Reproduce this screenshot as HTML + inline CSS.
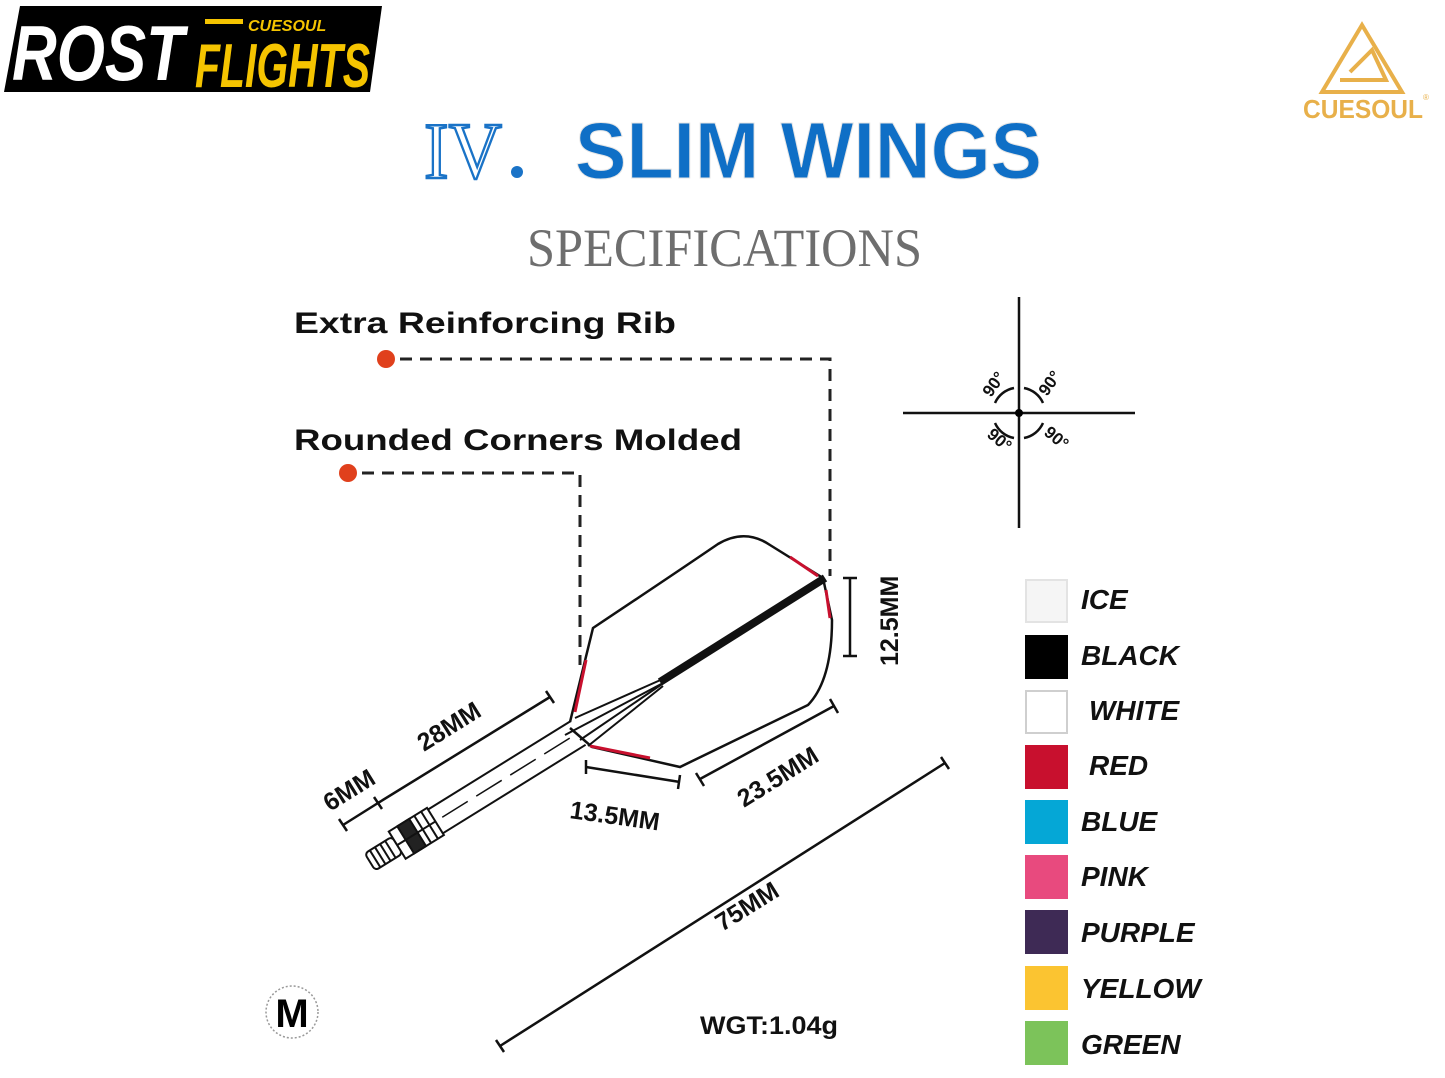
<!DOCTYPE html>
<html><head><meta charset="utf-8"><style>
html,body{margin:0;padding:0;background:#fff;}
svg{display:block;}
.s{font-family:"Liberation Sans",sans-serif;}
.serif{font-family:"Liberation Serif",serif;}
</style></head><body>
<svg width="1445" height="1078" viewBox="0 0 1445 1078" xmlns="http://www.w3.org/2000/svg" class="s">
<rect width="1445" height="1078" fill="#fff"/>
<polygon points="20,6 382,6 370,92 4,92" fill="#000"/>
<text x="12" y="80" font-size="78" font-weight="bold" font-style="italic" fill="#fff" textLength="172" lengthAdjust="spacingAndGlyphs">ROST</text>
<text x="195" y="87" font-size="62" font-weight="bold" font-style="italic" fill="#f5c400" textLength="175" lengthAdjust="spacingAndGlyphs">FLIGHTS</text>
<text x="248" y="31" font-size="16" font-weight="bold" font-style="italic" fill="#f5c400">CUESOUL</text>
<rect x="205" y="19" width="38" height="5" fill="#f5c400"/>
<g fill="none" stroke="#e8b04a" stroke-width="4">
<polygon points="1362,25 1402,92 1322,92"/>
<polyline points="1350,72 1372,50 1386,80 1340,80"/>
</g>
<text x="1303" y="118" font-size="26" font-weight="bold" fill="#e8b04a" textLength="120" lengthAdjust="spacingAndGlyphs">CUESOUL</text>
<text x="1423" y="100" font-size="8" fill="#e8b04a">®</text>
<text x="424" y="178" class="serif" font-size="80" fill="#fff" stroke="#1a73c7" stroke-width="2.5" textLength="78" lengthAdjust="spacingAndGlyphs">IV</text>
<circle cx="517" cy="172" r="6" fill="#1a73c7"/>
<text x="575" y="178" font-size="80" font-weight="bold" fill="#0f6fc6" stroke="#e6e6e6" stroke-width="1" textLength="467" lengthAdjust="spacingAndGlyphs">SLIM WINGS</text>
<text x="527" y="266" class="serif" font-size="54" fill="#6e6e6e" textLength="395" lengthAdjust="spacingAndGlyphs">SPECIFICATIONS</text>
<text x="294" y="333" font-size="30" font-weight="bold" fill="#111" textLength="382" lengthAdjust="spacingAndGlyphs">Extra Reinforcing Rib</text>
<text x="294" y="450" font-size="30" font-weight="bold" fill="#111" textLength="448" lengthAdjust="spacingAndGlyphs">Rounded Corners Molded</text>
<circle cx="386" cy="359" r="9" fill="#e0401c"/>
<circle cx="348" cy="473" r="9" fill="#e0401c"/>
<g fill="none" stroke="#222" stroke-width="3" stroke-dasharray="12,8">
<polyline points="400,359 830,359 830,576"/>
<polyline points="362,473 580,473 580,665"/>
</g>
<g stroke="#111" stroke-width="2.5" fill="none">
<line x1="1019" y1="297" x2="1019" y2="528"/>
<line x1="903" y1="413" x2="1135" y2="413"/>
<path d="M995,403 A26,26 0 0 1 1014,388"/>
<path d="M1024,388 A26,26 0 0 1 1043,403"/>
<path d="M995,423 A26,26 0 0 0 1014,438"/>
<path d="M1024,438 A26,26 0 0 0 1043,423"/>
</g>
<circle cx="1019" cy="413" r="4" fill="#000"/>
<g font-size="17" font-weight="bold" fill="#111">
<text transform="translate(991,398) rotate(-55)">90°</text>
<text transform="translate(1047,397) rotate(-55)">90°</text>
<text transform="translate(986,436) rotate(40)">90°</text>
<text transform="translate(1043,434) rotate(40)">90°</text>
</g>
<g transform="translate(370,862) rotate(-31.8)" stroke="#111" stroke-width="2" fill="#fff">
<rect x="0" y="-10" width="32" height="20" rx="4"/>
<line x1="6" y1="-10" x2="6" y2="10"/><line x1="12" y1="-10" x2="12" y2="10"/><line x1="18" y1="-10" x2="18" y2="10"/><line x1="24" y1="-10" x2="24" y2="10"/>
<rect x="32" y="-16" width="45" height="32"/>
<rect x="42" y="-16" width="14" height="32" fill="#222"/>
<line x1="62" y1="-16" x2="62" y2="16"/><line x1="70" y1="-16" x2="70" y2="16"/>
<line x1="32" y1="0" x2="77" y2="0"/>
<line x1="77" y1="-14" x2="245" y2="-14"/>
<line x1="77" y1="14" x2="245" y2="14"/>
<line x1="85" y1="0" x2="240" y2="0" stroke-dasharray="30,10" stroke-width="1.5"/>
</g>
<path d="M570,722 L593,628 Q680,570 718,544 Q745,528 770,545 L823,578 L832,620 Q832,680 808,705 L680,767 L592,747 L570,728" fill="none" stroke="#111" stroke-width="2.5"/>
<g stroke="#c8102e" stroke-width="3">
<line x1="586" y1="660" x2="575" y2="712"/>
<line x1="590" y1="746" x2="650" y2="758"/>
<line x1="790" y1="557" x2="818" y2="576"/>
<line x1="826" y1="590" x2="830" y2="618"/>
</g>
<g stroke="#111" fill="none">
<line x1="660" y1="682" x2="825" y2="578" stroke-width="8"/>
<line x1="575" y1="718" x2="665" y2="678" stroke-width="2"/>
<line x1="565" y1="735" x2="665" y2="682" stroke-width="2"/>
<line x1="580" y1="740" x2="668" y2="680" stroke-width="2"/>
<line x1="588" y1="746" x2="663" y2="686" stroke-width="2"/>
</g>
<g stroke="#111" stroke-width="2.5" fill="none">
<line x1="343" y1="825" x2="378" y2="803"/><line x1="339" y1="819" x2="347" y2="831"/><line x1="374" y1="797" x2="382" y2="809"/>
<line x1="378" y1="803" x2="550" y2="697"/><line x1="546" y1="691" x2="554" y2="703"/>
<line x1="586" y1="767" x2="680" y2="782"/><line x1="586" y1="760" x2="586" y2="774"/><line x1="680" y1="775" x2="678" y2="789"/>
<line x1="700" y1="779" x2="834" y2="706"/><line x1="696" y1="773" x2="704" y2="786"/><line x1="830" y1="699" x2="838" y2="713"/>
<line x1="850" y1="578" x2="850" y2="656"/><line x1="843" y1="578" x2="857" y2="578"/><line x1="843" y1="656" x2="857" y2="656"/>
<line x1="500" y1="1046" x2="945" y2="763"/><line x1="496" y1="1040" x2="504" y2="1052"/><line x1="941" y1="757" x2="949" y2="769"/>
</g>
<g font-size="25" font-weight="bold" fill="#111">
<text transform="translate(330,812) rotate(-32)">6MM</text>
<text transform="translate(424,752) rotate(-32)">28MM</text>
<text transform="translate(569,818) rotate(8)">13.5MM</text>
<text transform="translate(744,808) rotate(-32)">23.5MM</text>
<text transform="translate(898,666) rotate(-90)">12.5MM</text>
<text transform="translate(722,932) rotate(-32)">75MM</text>
</g>
<circle cx="292" cy="1012" r="26" fill="none" stroke="#999" stroke-width="1.5" stroke-dasharray="2,2"/>
<text x="292" y="1027" font-size="40" font-weight="bold" text-anchor="middle" fill="#000">M</text>
<text x="700" y="1034" font-size="25" font-weight="bold" fill="#111" textLength="138" lengthAdjust="spacingAndGlyphs">WGT:1.04g</text>
<g stroke-width="2">
<rect x="1026" y="580" width="41" height="42" fill="#f5f5f5" stroke="#e3e3e3"/>
<rect x="1026" y="636" width="41" height="42" fill="#000" stroke="#000"/>
<rect x="1026" y="691" width="41" height="42" fill="#fff" stroke="#cfcfcf"/>
<rect x="1026" y="746" width="41" height="42" fill="#c8102e" stroke="#c8102e"/>
<rect x="1026" y="801" width="41" height="42" fill="#05a7d6" stroke="#05a7d6"/>
<rect x="1026" y="856" width="41" height="42" fill="#e84a7e" stroke="#e84a7e"/>
<rect x="1026" y="911" width="41" height="42" fill="#3e2a55" stroke="#3e2a55"/>
<rect x="1026" y="967" width="41" height="42" fill="#fbc431" stroke="#fbc431"/>
<rect x="1026" y="1022" width="41" height="42" fill="#7cc35a" stroke="#7cc35a"/>
</g>
<g font-size="28" font-weight="bold" font-style="italic" fill="#111">
<text x="1081" y="609">ICE</text>
<text x="1081" y="665">BLACK</text>
<text x="1089" y="720">WHITE</text>
<text x="1089" y="775">RED</text>
<text x="1081" y="831">BLUE</text>
<text x="1081" y="886">PINK</text>
<text x="1081" y="942">PURPLE</text>
<text x="1081" y="998">YELLOW</text>
<text x="1081" y="1054">GREEN</text>
</g>
</svg>
</body></html>
